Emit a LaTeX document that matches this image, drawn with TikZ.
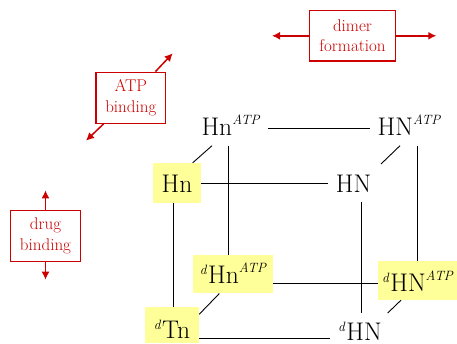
\documentclass[tikz,border=0pt]{standalone}
\usetikzlibrary{arrows.meta,calc}
\definecolor{boxred}{RGB}{204,0,0}
\definecolor{hilite}{RGB}{255,255,153}
% raised italic tags
\newcommand\atpsup{\raisebox{11pt}{\fontsize{13.5}{13.5}\selectfont\itshape ATP}}
\newcommand\dpre{\raisebox{9pt}{\fontsize{13.5}{13.5}\selectfont\itshape d}\kern1.5pt}
\begin{document}
\begin{tikzpicture}[x=1pt,y=-1pt,
  state/.style={font=\rmfamily\fontsize{25.5}{30}\selectfont, inner xsep=8pt, inner ysep=0pt,
    text height=19pt, text depth=0pt, minimum height=38pt},
  lowstate/.style={font=\rmfamily\fontsize{25.5}{30}\selectfont, inner xsep=8pt, inner ysep=0pt,
    text height=19pt, text depth=0pt},
  hbox/.style={font=\rmfamily\fontsize{25.5}{30}\selectfont, fill=hilite, inner sep=0pt, text depth=0pt},
  edge/.style={draw=black, line width=0.9pt},
  tag/.style={draw=boxred, line width=1.3pt, fill=white, text=boxred, align=center,
    font=\rmfamily\fontsize{17}{20.5}\selectfont, inner sep=0pt},
  redarrow/.style={draw=boxred, line width=1.5pt, -{Latex[length=8pt,width=8pt]}}]
\useasboundingbox (0,0) rectangle (457,344);

% states of the cube
\node[state] (hnatp) at (230.5,126.5) {Hn\atpsup};
\node[state] (HNatp) at (409,126.5) {HN\atpsup};
\node[state] (HN) at (353.5,183.2) {HN};
\node[lowstate] (dHN) at (360,331.2) {\dpre HN};
\node[hbox, minimum width=48pt, minimum height=40pt, text height=19.4pt] (hn) at (177,183) {Hn};
\node[hbox, minimum width=79.4pt, minimum height=38.3pt, text height=18.2pt] (dhnatp) at (233,274.2) {\dpre Hn\atpsup};
\node[hbox, minimum width=54pt, minimum height=36pt, text height=25.4pt] (dtn) at (172,325.3) {\dpre Tn};
\node[hbox, minimum width=78.4pt, minimum height=39pt, text height=21pt] (dHNatp) at (417.5,280.5) {\dpre HN\atpsup};

% cube edges
\draw[edge] ([yshift=-1.5pt]hnatp.east) -- ([yshift=-1.5pt]HNatp.west);
\draw[edge] ([xshift=-18.5pt]hnatp.south) -- ([xshift=15.7pt]hn.north);
\draw[edge] ([xshift=-2.2pt]hnatp.south) -- ([xshift=-2.2pt]hnatp.south |- dhnatp.north);
\draw[edge] ([xshift=-9pt]HNatp.south) -- ([xshift=27.5pt]HN.north);
\draw[edge] ([xshift=8pt]HNatp.south) -- ([xshift=8pt]HNatp.south |- dHNatp.north);
\draw[edge] (hn.east) -- (hn.east -| HN.west);
\draw[edge] ([xshift=-3.7pt]hn.south) -- ([xshift=-3.7pt]hn.south |- dtn.north);
\draw[edge] ([xshift=7.5pt]HN.south) -- ([xshift=7.5pt,yshift=8.5pt]HN.south |- dHN.north);
\draw[edge] ([yshift=-9pt]dhnatp.east) -- ([yshift=-9pt]dhnatp.east -| dHNatp.west);
\draw[edge] ([xshift=-13.7pt]dhnatp.south) -- ([yshift=11pt]dtn.east);
\draw[edge] ([xshift=-16.5pt]dHNatp.south) -- ([xshift=27.7pt,yshift=8.5pt]dHN.north);
\draw[edge] ([yshift=-13pt]dtn.east) -- ([yshift=-13pt]dtn.east -| dHN.west);

% process tags with their double arrows
\coordinate (atpUp) at (172.7,53.3);
\coordinate (atpDown) at (86,140.7);
\coordinate (dimL) at (272,35.8);
\coordinate (dimR) at (436.3,35.8);
\coordinate (drugUp) at (45.5,190.3);
\coordinate (drugDown) at (45.5,279.7);
\node[tag, minimum width=69.7pt, minimum height=51pt] (atp) at (130.8,97.8) {ATP\\binding};
\node[tag, minimum width=85.6pt, minimum height=50.3pt] (dimer) at (352.5,35.8) {dimer\\formation};
\node[tag, minimum width=69.6pt, minimum height=51pt] (drug) at (45.5,235.8) {drug\\binding};
\draw[redarrow] (atp) -- (atpUp);
\draw[redarrow] (atp) -- (atpDown);
\draw[redarrow] (dimer) -- (dimL);
\draw[redarrow] (dimer) -- (dimR);
\draw[redarrow] (drug) -- (drugUp);
\draw[redarrow] (drug) -- (drugDown);
\end{tikzpicture}
\end{document}
